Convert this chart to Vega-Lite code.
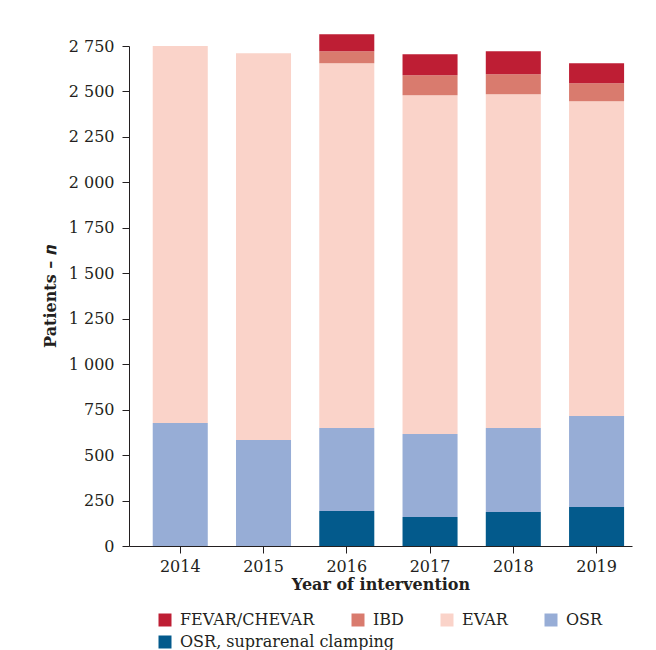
{
  "$schema": "https://vega.github.io/schema/vega-lite/v6.json",
  "width": 503,
  "height": 500,
  "autosize": {"type": "none"},
  "padding": {"left": 129, "top": 46, "right": 24, "bottom": 104},
  "background": "white",
  "config": {
    "font": "DejaVu Serif",
    "view": {"stroke": null},
    "axis": {"labelFont": "DejaVu Serif", "titleFont": "DejaVu Serif", "labelColor": "#231f20", "titleColor": "#231f20", "domainColor": "#231f20", "tickColor": "#231f20", "grid": false},
    "legend": {"labelFont": "DejaVu Serif", "labelFontSize": 16, "labelColor": "#231f20", "labelOffset": 7, "symbolType": "square", "symbolSize": 169, "symbolStrokeWidth": 0, "columnPadding": 35, "labelLimit": 400, "title": null}
  },
  "data": {
    "values": [
      {"year": "2014", "type": "OSR", "n": 676},
      {"year": "2014", "type": "EVAR", "n": 2074},
      {"year": "2015", "type": "OSR", "n": 583},
      {"year": "2015", "type": "EVAR", "n": 2127},
      {"year": "2016", "type": "OSR, suprarenal clamping", "n": 192},
      {"year": "2016", "type": "OSR", "n": 457},
      {"year": "2016", "type": "EVAR", "n": 2006},
      {"year": "2016", "type": "IBD", "n": 66},
      {"year": "2016", "type": "FEVAR/CHEVAR", "n": 94},
      {"year": "2017", "type": "OSR, suprarenal clamping", "n": 159},
      {"year": "2017", "type": "OSR", "n": 457},
      {"year": "2017", "type": "EVAR", "n": 1863},
      {"year": "2017", "type": "IBD", "n": 110},
      {"year": "2017", "type": "FEVAR/CHEVAR", "n": 116},
      {"year": "2018", "type": "OSR, suprarenal clamping", "n": 187},
      {"year": "2018", "type": "OSR", "n": 462},
      {"year": "2018", "type": "EVAR", "n": 1836},
      {"year": "2018", "type": "IBD", "n": 110},
      {"year": "2018", "type": "FEVAR/CHEVAR", "n": 126},
      {"year": "2019", "type": "OSR, suprarenal clamping", "n": 214},
      {"year": "2019", "type": "OSR", "n": 501},
      {"year": "2019", "type": "EVAR", "n": 1731},
      {"year": "2019", "type": "IBD", "n": 99},
      {"year": "2019", "type": "FEVAR/CHEVAR", "n": 110}
    ]
  },
  "transform": [
    {"calculate": "indexof(['OSR, suprarenal clamping','OSR','EVAR','IBD','FEVAR/CHEVAR'], datum.type)", "as": "k"},
    {"stack": "n", "groupby": ["year"], "sort": [{"field": "k", "order": "ascending"}], "as": ["n0", "n1"]}
  ],
  "encoding": {
    "x": {
      "field": "year", "type": "ordinal",
      "scale": {"paddingInner": 0.339, "paddingOuter": 0.19, "align": 0.75},
      "axis": {"labelAngle": 0, "labelFontSize": 16, "tickSize": 7, "labelPadding": 5, "title": "Year of intervention", "titleFontSize": 16, "titleFontWeight": "bold", "titlePadding": 2}
    },
    "y": {
      "field": "n0", "type": "quantitative",
      "scale": {"domain": [0, 2750], "nice": false},
      "axis": {"values": [0, 250, 500, 750, 1000, 1250, 1500, 1750, 2000, 2250, 2500, 2750], "labelExpr": "replace(format(datum.value, ','), ',', ' ')", "labelFontSize": 16, "tickSize": 7, "labelPadding": 8, "title": "Patients – 𝒏", "titleFontSize": 16, "titleFontWeight": "bold", "titlePadding": 10}
    },
    "y2": {"field": "n1"}
  },
  "layer": [
    {
      "transform": [{"filter": "datum.type !== 'OSR, suprarenal clamping'"}],
      "mark": {"type": "bar", "clip": false},
      "encoding": {
        "color": {
          "field": "type", "type": "nominal",
          "scale": {"domain": ["FEVAR/CHEVAR", "IBD", "EVAR", "OSR"], "range": ["#BE1E34", "#D97B6E", "#FAD3C9", "#97ADD6"]},
          "legend": {"orient": "none", "legendX": 28, "legendY": 566, "direction": "horizontal"}
        }
      }
    },
    {
      "transform": [{"filter": "datum.type === 'OSR, suprarenal clamping'"}],
      "mark": {"type": "bar", "clip": false},
      "encoding": {
        "fill": {
          "field": "type", "type": "nominal",
          "scale": {"domain": ["OSR, suprarenal clamping"], "range": ["#035A8C"]},
          "legend": {"orient": "none", "legendX": 28, "legendY": 588, "direction": "horizontal"}
        }
      }
    }
  ],
  "resolve": {"scale": {"color": "independent", "fill": "independent"}}
}
